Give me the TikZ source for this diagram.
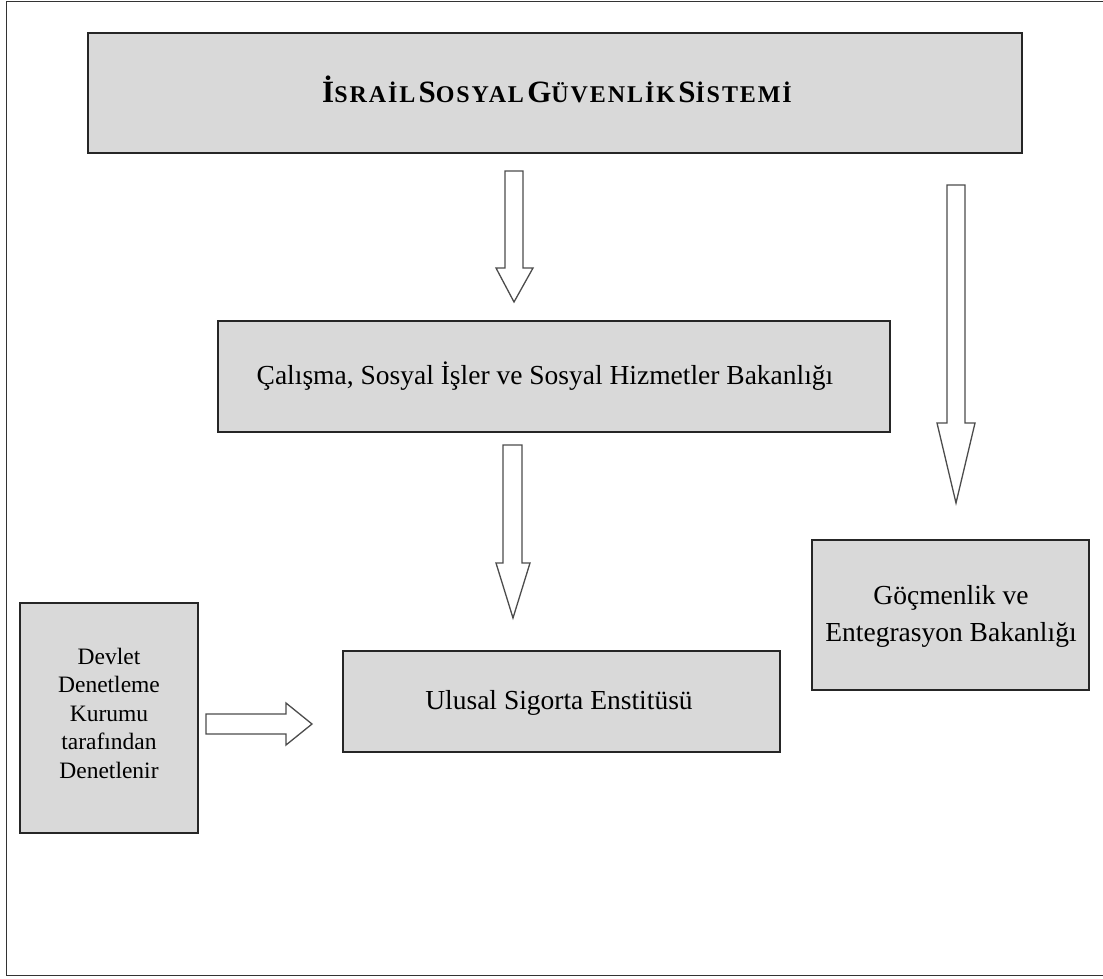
\documentclass[tikz,border=0pt]{standalone}
\usepackage{fontspec}
\setmainfont{Liberation Serif}
\newfontfamily\titlefont[LetterSpace=8]{Liberation Serif}
\newcommand{\bigc}[1]{{\fontsize{31}{33}\selectfont #1}}
\newcommand{\smc}[1]{{\fontsize{24}{33}\selectfont #1}}
\begin{document}
\begin{tikzpicture}[x=1pt,y=-1pt,
  boxst/.style={draw=black!85,line width=1.8pt,fill=black!15},
  txt/.style={font=\fontsize{27.5}{37}\selectfont,align=center,inner sep=0pt},
  blockarrow/.style={draw=black!70,line width=1.3pt,fill=white,line join=miter}]
\useasboundingbox (0,0) rectangle (1103,978);
% outer frame
\draw[draw=black!80,line width=1.8pt] (1104,1.5) -- (6.5,1.5) -- (6.5,975.5) -- (1104,975.5);
% boxes
\draw[boxst] (88,33) rectangle (1022,153);
\node[inner sep=0pt,anchor=base] (title) at (557,102) {\titlefont\bfseries\bigc{İ}\smc{SRAİL} \bigc{S}\smc{OSYAL} \bigc{G}\smc{ÜVENLİK} \bigc{S}\smc{İSTEMİ}};
\draw[boxst] (218,321) rectangle (890,432);
\node[txt] (mid) at (545,376) {Çalışma, Sosyal İşler ve Sosyal Hizmetler Bakanlığı};
\draw[boxst] (343,651) rectangle (780,752);
\node[txt] (ulu) at (559,703) {Ulusal Sigorta Enstitüsü};
\draw[boxst] (20,603) rectangle (198,833);
\node[txt,font=\fontsize{23.5}{28.5}\selectfont] (dev) at (109,713) {Devlet\\Denetleme\\Kurumu\\tarafından\\Denetlenir};
\draw[boxst] (812,540) rectangle (1089,690);
\node[txt] (goc) at (951,616) {Göçmenlik ve\\Entegrasyon Bakanlığı};
% block arrows
\draw[blockarrow] (505,171) -- (523,171) -- (523,268) -- (533,268) -- (514,302) -- (496,268) -- (505,268) -- cycle;
\draw[blockarrow] (503,445) -- (522,445) -- (522,563) -- (530,563) -- (513,618) -- (496,563) -- (503,563) -- cycle;
\draw[blockarrow] (947,185) -- (965,185) -- (965,423) -- (975,423) -- (956,503) -- (937,423) -- (947,423) -- cycle;
\draw[blockarrow] (206,714) -- (286,714) -- (286,703) -- (312,724) -- (286,745) -- (286,734) -- (206,734) -- cycle;
\end{tikzpicture}
\end{document}
